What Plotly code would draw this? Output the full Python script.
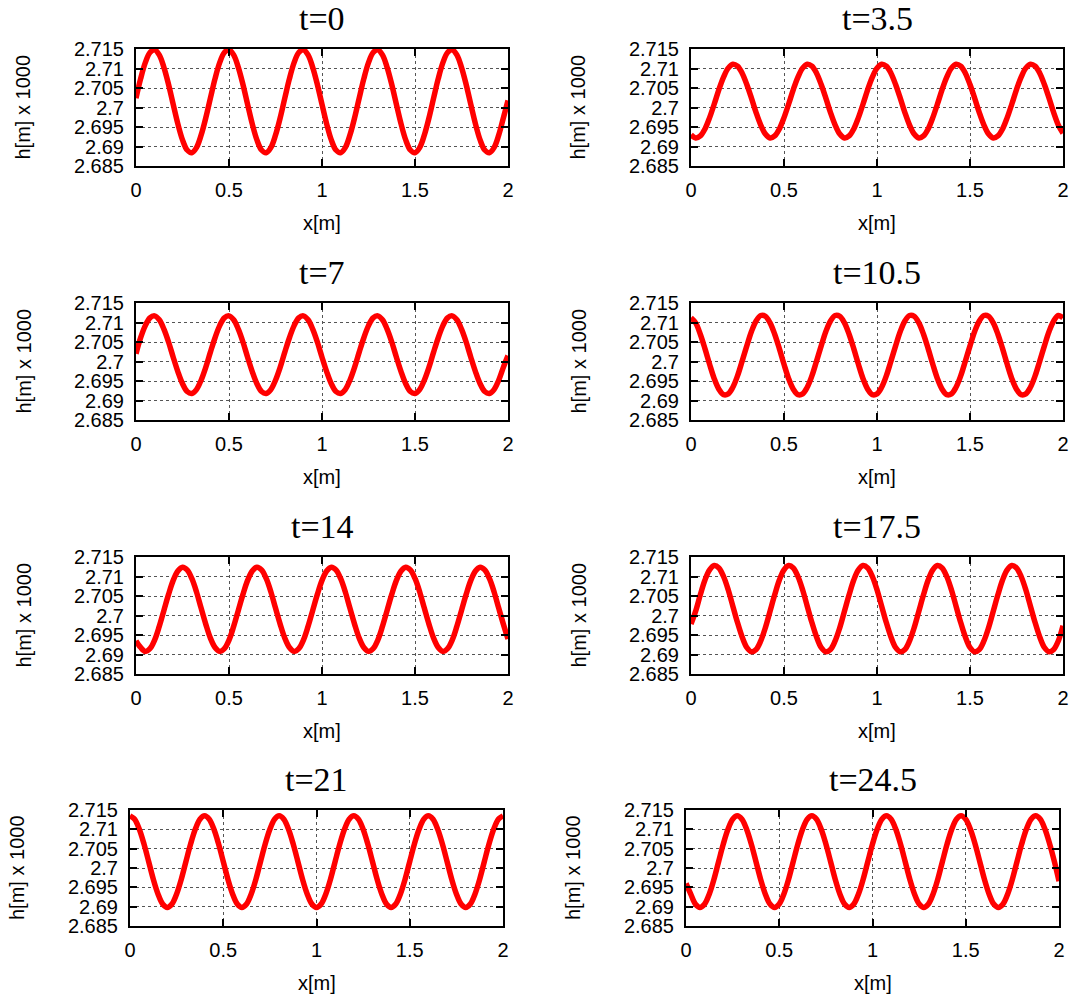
import plotly.graph_objects as go

# ---------------- data ----------------
x_m = [0.0, 0.025, 0.05, 0.075, 0.1, 0.125, 0.15, 0.175, 0.2, 0.225,
       0.25, 0.275, 0.3, 0.325, 0.35, 0.375, 0.4, 0.425, 0.45, 0.475,
       0.5, 0.525, 0.55, 0.575, 0.6, 0.625, 0.65, 0.675, 0.7, 0.725,
       0.75, 0.775, 0.8, 0.825, 0.85, 0.875, 0.9, 0.925, 0.95, 0.975,
       1.0, 1.025, 1.05, 1.075, 1.1, 1.125, 1.15, 1.175, 1.2, 1.225,
       1.25, 1.275, 1.3, 1.325, 1.35, 1.375, 1.4, 1.425, 1.45, 1.475,
       1.5, 1.525, 1.55, 1.575, 1.6, 1.625, 1.65, 1.675, 1.7, 1.725,
       1.75, 1.775, 1.8, 1.825, 1.85, 1.875, 1.9, 1.925, 1.95, 1.975, 2.0]

panel_titles = ["t=0", "t=3.5", "t=7", "t=10.5", "t=14", "t=17.5", "t=21", "t=24.5"]

h_t0 = [2.7024, 2.7074, 2.7115, 2.7141, 2.7148, 2.7135, 2.7103, 2.7059,
        2.7008, 2.6958, 2.6917, 2.6891, 2.6884, 2.6897, 2.6929, 2.6973,
        2.7024, 2.7074, 2.7115, 2.7141, 2.7148, 2.7135, 2.7103, 2.7059,
        2.7008, 2.6958, 2.6917, 2.6891, 2.6884, 2.6897, 2.6929, 2.6973,
        2.7024, 2.7074, 2.7115, 2.7141, 2.7148, 2.7135, 2.7103, 2.7059,
        2.7008, 2.6958, 2.6917, 2.6891, 2.6884, 2.6897, 2.6929, 2.6973,
        2.7024, 2.7074, 2.7115, 2.7141, 2.7148, 2.7135, 2.7103, 2.7059,
        2.7008, 2.6958, 2.6917, 2.6891, 2.6884, 2.6897, 2.6929, 2.6973,
        2.7024, 2.7074, 2.7115, 2.7141, 2.7148, 2.7135, 2.7103, 2.7059,
        2.7008, 2.6958, 2.6917, 2.6891, 2.6884, 2.6897, 2.6929, 2.6973,
        2.7018]
h_t3_5 = [2.6930, 2.6922, 2.6927, 2.6945, 2.6974, 2.7009, 2.7046, 2.7078,
          2.7101, 2.7111, 2.7106, 2.7088, 2.7059, 2.7024, 2.6987, 2.6955,
          2.6932, 2.6922, 2.6927, 2.6945, 2.6974, 2.7009, 2.7046, 2.7078,
          2.7101, 2.7111, 2.7106, 2.7088, 2.7059, 2.7024, 2.6987, 2.6955,
          2.6932, 2.6922, 2.6927, 2.6945, 2.6974, 2.7009, 2.7046, 2.7078,
          2.7101, 2.7111, 2.7106, 2.7088, 2.7059, 2.7024, 2.6987, 2.6955,
          2.6932, 2.6922, 2.6927, 2.6945, 2.6974, 2.7009, 2.7046, 2.7078,
          2.7101, 2.7111, 2.7106, 2.7088, 2.7059, 2.7024, 2.6987, 2.6955,
          2.6932, 2.6922, 2.6927, 2.6945, 2.6974, 2.7009, 2.7046, 2.7078,
          2.7101, 2.7111, 2.7106, 2.7088, 2.7059, 2.7024, 2.6987, 2.6955,
          2.6934]
h_t7 = [2.7020, 2.7061, 2.7092, 2.7112, 2.7117, 2.7107, 2.7083, 2.7050,
        2.7011, 2.6974, 2.6943, 2.6923, 2.6918, 2.6928, 2.6952, 2.6985,
        2.7024, 2.7061, 2.7092, 2.7112, 2.7117, 2.7107, 2.7083, 2.7050,
        2.7011, 2.6974, 2.6943, 2.6923, 2.6918, 2.6928, 2.6952, 2.6985,
        2.7024, 2.7061, 2.7092, 2.7112, 2.7117, 2.7107, 2.7083, 2.7050,
        2.7011, 2.6974, 2.6943, 2.6923, 2.6918, 2.6928, 2.6952, 2.6985,
        2.7024, 2.7061, 2.7092, 2.7112, 2.7117, 2.7107, 2.7083, 2.7050,
        2.7011, 2.6974, 2.6943, 2.6923, 2.6918, 2.6928, 2.6952, 2.6985,
        2.7024, 2.7061, 2.7092, 2.7112, 2.7117, 2.7107, 2.7083, 2.7050,
        2.7011, 2.6974, 2.6943, 2.6923, 2.6918, 2.6928, 2.6952, 2.6985,
        2.7015]
h_t10_5 = [2.7112, 2.7099, 2.7070, 2.7033, 2.6993, 2.6956, 2.6929, 2.6915,
           2.6917, 2.6934, 2.6963, 2.7001, 2.7040, 2.7077, 2.7104, 2.7118,
           2.7116, 2.7099, 2.7070, 2.7033, 2.6993, 2.6956, 2.6929, 2.6915,
           2.6917, 2.6934, 2.6963, 2.7001, 2.7040, 2.7077, 2.7104, 2.7118,
           2.7116, 2.7099, 2.7070, 2.7033, 2.6993, 2.6956, 2.6929, 2.6915,
           2.6917, 2.6934, 2.6963, 2.7001, 2.7040, 2.7077, 2.7104, 2.7118,
           2.7116, 2.7099, 2.7070, 2.7033, 2.6993, 2.6956, 2.6929, 2.6915,
           2.6917, 2.6934, 2.6963, 2.7001, 2.7040, 2.7077, 2.7104, 2.7118,
           2.7116, 2.7099, 2.7070, 2.7033, 2.6993, 2.6956, 2.6929, 2.6915,
           2.6917, 2.6934, 2.6963, 2.7001, 2.7040, 2.7077, 2.7104, 2.7118,
           2.7112]
h_t14 = [2.6935, 2.6918, 2.6908, 2.6915, 2.6937, 2.6972, 2.7013, 2.7054,
         2.7090, 2.7114, 2.7124, 2.7117, 2.7095, 2.7061, 2.7019, 2.6978,
         2.6942, 2.6918, 2.6908, 2.6915, 2.6937, 2.6972, 2.7013, 2.7054,
         2.7090, 2.7114, 2.7124, 2.7117, 2.7095, 2.7061, 2.7019, 2.6978,
         2.6942, 2.6918, 2.6908, 2.6915, 2.6937, 2.6972, 2.7013, 2.7054,
         2.7090, 2.7114, 2.7124, 2.7117, 2.7095, 2.7061, 2.7019, 2.6978,
         2.6942, 2.6918, 2.6908, 2.6915, 2.6937, 2.6972, 2.7013, 2.7054,
         2.7090, 2.7114, 2.7124, 2.7117, 2.7095, 2.7061, 2.7019, 2.6978,
         2.6942, 2.6918, 2.6908, 2.6915, 2.6937, 2.6972, 2.7013, 2.7054,
         2.7090, 2.7114, 2.7124, 2.7117, 2.7095, 2.7061, 2.7019, 2.6978,
         2.6940]
h_t17_5 = [2.6978, 2.7011, 2.7053, 2.7091, 2.7117, 2.7128, 2.7122, 2.7100,
           2.7066, 2.7024, 2.6982, 2.6945, 2.6918, 2.6907, 2.6913, 2.6935,
           2.6969, 2.7011, 2.7053, 2.7091, 2.7117, 2.7128, 2.7122, 2.7100,
           2.7066, 2.7024, 2.6982, 2.6945, 2.6918, 2.6907, 2.6913, 2.6935,
           2.6969, 2.7011, 2.7053, 2.7091, 2.7117, 2.7128, 2.7122, 2.7100,
           2.7066, 2.7024, 2.6982, 2.6945, 2.6918, 2.6907, 2.6913, 2.6935,
           2.6969, 2.7011, 2.7053, 2.7091, 2.7117, 2.7128, 2.7122, 2.7100,
           2.7066, 2.7024, 2.6982, 2.6945, 2.6918, 2.6907, 2.6913, 2.6935,
           2.6969, 2.7011, 2.7053, 2.7091, 2.7117, 2.7128, 2.7122, 2.7100,
           2.7066, 2.7024, 2.6982, 2.6945, 2.6918, 2.6907, 2.6913, 2.6935,
           2.6974]
h_t21 = [2.7135, 2.7126, 2.7100, 2.7062, 2.7017, 2.6971, 2.6933, 2.6907,
         2.6898, 2.6907, 2.6933, 2.6971, 2.7017, 2.7062, 2.7100, 2.7126,
         2.7135, 2.7126, 2.7100, 2.7062, 2.7017, 2.6971, 2.6933, 2.6907,
         2.6898, 2.6907, 2.6933, 2.6971, 2.7017, 2.7062, 2.7100, 2.7126,
         2.7135, 2.7126, 2.7100, 2.7062, 2.7017, 2.6971, 2.6933, 2.6907,
         2.6898, 2.6907, 2.6933, 2.6971, 2.7017, 2.7062, 2.7100, 2.7126,
         2.7135, 2.7126, 2.7100, 2.7062, 2.7017, 2.6971, 2.6933, 2.6907,
         2.6898, 2.6907, 2.6933, 2.6971, 2.7017, 2.7062, 2.7100, 2.7126,
         2.7135, 2.7126, 2.7100, 2.7062, 2.7017, 2.6971, 2.6933, 2.6907,
         2.6898, 2.6907, 2.6933, 2.6971, 2.7017, 2.7062, 2.7100, 2.7126,
         2.7135]
h_t24_5 = [2.6960, 2.6933, 2.6907, 2.6898, 2.6907, 2.6933, 2.6971, 2.7017,
           2.7062, 2.7100, 2.7126, 2.7135, 2.7126, 2.7100, 2.7062, 2.7017,
           2.6971, 2.6933, 2.6907, 2.6898, 2.6907, 2.6933, 2.6971, 2.7017,
           2.7062, 2.7100, 2.7126, 2.7135, 2.7126, 2.7100, 2.7062, 2.7017,
           2.6971, 2.6933, 2.6907, 2.6898, 2.6907, 2.6933, 2.6971, 2.7017,
           2.7062, 2.7100, 2.7126, 2.7135, 2.7126, 2.7100, 2.7062, 2.7017,
           2.6971, 2.6933, 2.6907, 2.6898, 2.6907, 2.6933, 2.6971, 2.7017,
           2.7062, 2.7100, 2.7126, 2.7135, 2.7126, 2.7100, 2.7062, 2.7017,
           2.6971, 2.6933, 2.6907, 2.6898, 2.6907, 2.6933, 2.6971, 2.7017,
           2.7062, 2.7100, 2.7126, 2.7135, 2.7126, 2.7100, 2.7062, 2.7017,
           2.6966]

y_tickvals = [2.685, 2.69, 2.695, 2.7, 2.705, 2.71, 2.715]
y_ticktext = ["2.685", "2.69", "2.695", "2.7", "2.705", "2.71", "2.715"]
x_tickvals = [0, 0.5, 1, 1.5, 2]
x_ticktext = ["0", "0.5", "1", "1.5", "2"]

series = [h_t0, h_t3_5, h_t7, h_t10_5, h_t14, h_t17_5, h_t21, h_t24_5]

# ---------------- layout (pixel boxes of each panel, page coordinates) ----------------
W, H = 1078, 999
boxes = [(136, 508, 49, 166), (691, 1063, 49, 166),
         (136, 508, 303, 420), (691, 1063, 303, 420),
         (136, 508, 557, 674), (691, 1063, 557, 674),
         (130, 503, 810, 926), (686, 1059, 810, 926)]


def px(v):
    return v / W


def py(v):
    return 1 - v / H


SANS = "Liberation Sans, Arial, sans-serif"
SERIF = "Liberation Serif, Times New Roman, serif"

fig = go.Figure()
annotations = []
layout_axes = {}
for i, (ys, title, (l, r, t, b)) in enumerate(zip(series, panel_titles, boxes)):
    n = i + 1
    xa = "x" if n == 1 else f"x{n}"
    ya = "y" if n == 1 else f"y{n}"
    fig.add_trace(go.Scatter(x=x_m, y=ys, xaxis=xa, yaxis=ya, mode="lines",
                             line=dict(color="#ff0000", width=5.5, shape="spline"),
                             showlegend=False, hoverinfo="skip"))
    common = dict(showline=True, linecolor="black", linewidth=2, mirror="ticks",
                  ticks="inside", ticklen=7, tickwidth=1.5, tickcolor="black",
                  showgrid=True, gridcolor="#555555", griddash="dot", gridwidth=1,
                  zeroline=False, automargin=False,
                  tickfont=dict(family=SANS, size=20, color="black"))
    layout_axes["xaxis" if n == 1 else f"xaxis{n}"] = dict(
        domain=[px(l), px(r)], anchor=ya, range=[0, 2],
        tickvals=x_tickvals, ticktext=x_ticktext, ticklabelstandoff=5, **common)
    layout_axes["yaxis" if n == 1 else f"yaxis{n}"] = dict(
        domain=[py(b), py(t)], anchor=xa, range=[2.685, 2.715],
        tickvals=y_tickvals, ticktext=y_ticktext, ticklabelstandoff=6, **common)
    cx = (l + r) / 2
    annotations.append(dict(text=title, x=px(cx), y=py(t - 31), xref="paper", yref="paper",
                            showarrow=False, xanchor="center", yanchor="middle",
                            font=dict(family=SERIF, size=34, color="black")))
    annotations.append(dict(text="x[m]", x=px(cx), y=py(b + 57), xref="paper", yref="paper",
                            showarrow=False, xanchor="center", yanchor="middle",
                            font=dict(family=SANS, size=20, color="black")))
    annotations.append(dict(text="h[m] x 1000", x=px(l - 113), y=py((t + b) / 2),
                            xref="paper", yref="paper", textangle=-90,
                            showarrow=False, xanchor="center", yanchor="middle",
                            font=dict(family=SANS, size=20, color="black")))

fig.update_layout(width=W, height=H, margin=dict(l=0, r=0, t=0, b=0),
                  paper_bgcolor="white", plot_bgcolor="white",
                  annotations=annotations, **layout_axes)

# remove the page's default 8px body margin so the figure fills the window exactly
fig.write_html("out.html", config={"displayModeBar": False},
               post_script="document.body.style.margin='0px';")
